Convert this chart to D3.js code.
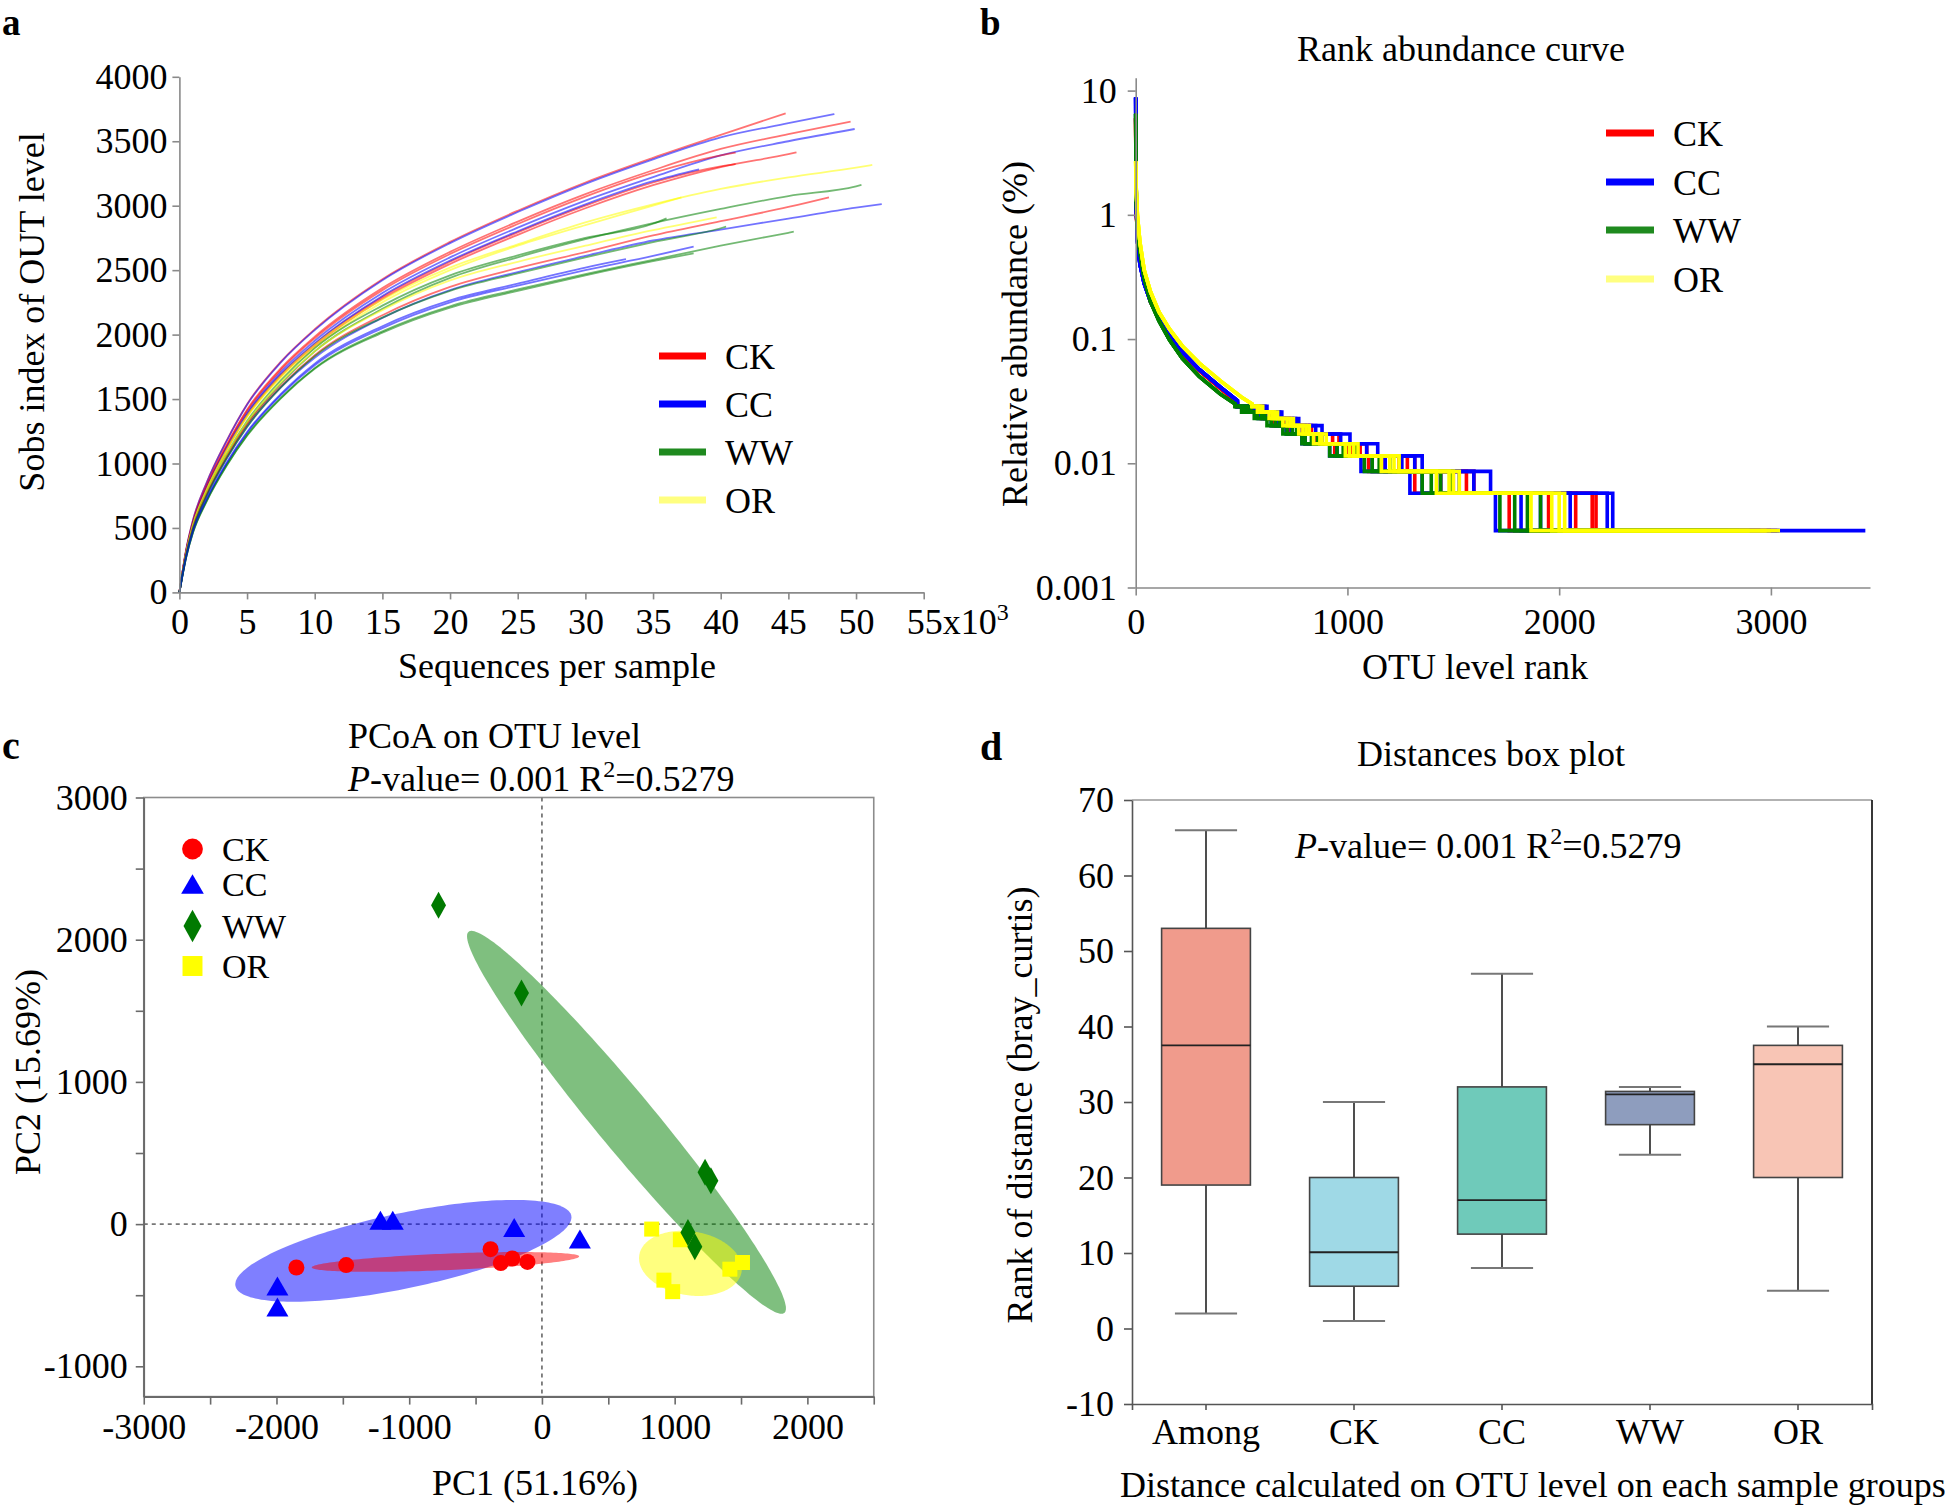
<!DOCTYPE html>
<html><head><meta charset="utf-8">
<script src="https://cdn.jsdelivr.net/npm/d3@7"></script>
<style>body{margin:0;background:#fff}</style>
</head><body>
<svg id="c" width="1945" height="1505" xmlns="http://www.w3.org/2000/svg"></svg>
<script>
// ---------------- DATA ----------------
const groups = ["CK","CC","WW","OR"];
const lineColors = {CK:"#ff0000", CC:"#0000ff", WW:"#008000", OR:"#ffff00"};
const legendColors = {CK:"#ff0000", CC:"#0000ff", WW:"#1f8a1f", OR:"#ffff80"};

// Panel a: rarefaction curves (x in thousands of sequences)
const rareTicksX = [0,5,10,15,20,25,30,35,40,45,50,55];
const rareTicksY = [0,500,1000,1500,2000,2500,3000,3500,4000];
const rareX = [0,0.5,1,2,3.5,5,7.5,10,15,20,25,30,35,40,45,50];
const rareCurves = [
 ["CK",[0,331,560,849,1180,1460,1790,2042,2430,2719,2961,3180,3371,3549],[44.8,3717]],
 ["CC",[0,330,558,846,1176,1455,1785,2035,2422,2710,2951,3170,3360,3530,3640],[48.4,3711]],
 ["CK",[0,321,544,825,1146,1418,1740,1984,2361,2642,2877,3090,3275,3440,3555],[49.6,3652]],
 ["CC",[0,316,535,812,1128,1395,1712,1952,2323,2599,2830,3040,3222,3390,3500],[49.9,3595]],
 ["CK",[0,319,540,820,1139,1409,1728,1971,2345,2625,2858,3070,3254,3390],[41.1,3411]],
 ["CK",[0,310,524,796,1106,1368,1678,1913,2277,2548,2774,2980,3159,3300,3400],[45.6,3414]],
 ["CK",[0,312,528,801,1113,1377,1689,1926,2292,2565,2793,3000,3180,3305],[41.1,3323]],
 ["CC",[0,313,530,804,1117,1382,1695,1932,2300,2574,2802,3010,3190],[38.4,3282]],
 ["OR",[0,310,525,795,1110,1370,1680,1920,2270,2520,2700,2870,3010,3130,3220,3295],[51.2,3316]],
 ["OR",[0,305,520,790,1100,1360,1665,1900,2250,2500,2690,2850,3000],[37.1,3065]],
 ["WW",[0,290,500,760,1060,1310,1620,1870,2200,2440,2600,2740,2865,2975,3075,3150],[50.4,3161]],
 ["WW",[0,295,505,770,1075,1330,1645,1895,2225,2460,2615,2750,2860],[36.0,2902]],
 ["OR",[0,295,505,770,1070,1320,1630,1870,2190,2420,2565,2690,2810],[39.7,2910]],
 ["CK",[0,290,495,755,1050,1300,1600,1840,2150,2370,2515,2640,2770,2880,2990],[48.0,3065]],
 ["CC",[0,287,490,746,1040,1285,1590,1820,2130,2345,2485,2610,2730,2815,2900,2985],[51.9,3013]],
 ["WW",[0,286,489,744,1040,1284,1590,1833,2132,2340,2475,2600,2717,2825],[40.4,2837]],
 ["CC",[0,275,470,715,1000,1235,1530,1762,2050,2250,2380,2500,2610],[38.0,2682]],
 ["WW",[0,272,464,706,988,1220,1510,1740,2025,2220,2350,2470,2580,2690,2790],[45.4,2798]],
 ["WW",[0,270,462,703,984,1215,1505,1735,2015,2210,2340,2460,2570],[38.0,2630]],
 ["CC",[0,277,474,720,1008,1245,1540,1775,2065,2265,2395,2520],[33.0,2585]]
];

// Panel b: rank abundance (relative abundance %)
const rankTicksX = [0,1000,2000,3000];
const rankTicksY = [0.001,0.01,0.1,1,10];
const rankTickLabelsY = ["0.001","0.01","0.1","1","10"];
const rankUnit = 0.00287; // abundance of a single read (%)
const rankHeads = {
 CK:[[0,6.0],[1,2.2],[3,1.1],[8,0.65],[20,0.42],[40,0.29],[70,0.2],[110,0.145],[160,0.105],[220,0.077],[300,0.056],[400,0.04],[480,0.031]],
 CC:[[0,8.8],[1,3.0],[3,1.2],[8,0.62],[20,0.4],[40,0.28],[70,0.2],[110,0.148],[160,0.108],[220,0.079],[300,0.057],[400,0.041],[480,0.032]],
 WW:[[0,6.5],[1,2.6],[3,1.3],[8,0.8],[20,0.5],[40,0.31],[70,0.2],[110,0.14],[160,0.098],[220,0.07],[300,0.05],[400,0.036],[470,0.030]],
 OR:[[0,2.7],[1,2.1],[3,1.5],[8,1.0],[20,0.6],[40,0.36],[70,0.24],[110,0.165],[160,0.12],[220,0.088],[300,0.064],[400,0.046],[500,0.034],[550,0.030]]
};
// last rank holding 10,9,...,2 reads, then last rank (1 read)
const rankTails = [
 ["CK",[600,670,740,830,960,1091,1318,1597,2174,3030]],
 ["CK",[590,655,725,815,930,1060,1283,1562,2156,3000]],
 ["CK",[570,635,700,790,880,1020,1244,1500,2078,2950]],
 ["CK",[530,590,650,720,800,940,1100,1318,1764,2700]],
 ["CK",[555,620,690,770,850,1000,1178,1440,1950,2900]],
 ["CC",[620,690,770,880,1012,1143,1353,1676,2253,3446]],
 ["CC",[610,680,755,850,968,1091,1318,1597,2227,3040]],
 ["CC",[580,645,715,800,880,1038,1257,1528,2052,3000]],
 ["CC",[540,600,665,735,800,951,1117,1353,1820,2900]],
 ["CC",[520,580,640,710,785,916,1064,1295,1699,2800]],
 ["CC",[560,625,690,770,840,990,1178,1440,1912,2950]],
 ["WW",[500,560,620,695,785,916,1080,1353,1720,2700]],
 ["WW",[515,575,640,715,800,951,1117,1396,1790,2750]],
 ["WW",[545,610,680,760,860,1038,1200,1440,1912,2900]],
 ["WW",[530,595,660,740,830,980,1150,1493,1850,2850]],
 ["OR",[600,670,745,820,900,1050,1244,1528,2026,3043]],
 ["OR",[580,645,715,790,870,1010,1200,1480,1965,2980]],
 ["OR",[575,630,695,770,840,990,1160,1420,1867,2900]],
 ["OR",[590,655,730,805,880,1030,1220,1500,2000,3000]]
];

// Panel c: PCoA
const pcoaTicksX = [-3000,-2000,-1000,0,1000,2000];
const pcoaMinorX = [-2500,-1500,-500,500,1500,2500];
const pcoaTicksY = [-1000,0,1000,2000,3000];
const pcoaMinorY = [-500,500,1500,2500];
const pcoaPoints = {
 CK:[[-1850,-305],[-1475,-288],[-387,-176],[-310,-274],[-223,-242],[-109,-266]],
 CC:[[-1993,-435],[-1993,-583],[-1217,28],[-1124,28],[-209,-24],[286,-105]],
 WW:[[-779,2243],[-154,1625],[1229,364],[1273,305],[1100,-59],[1152,-160]],
 OR:[[827,-35],[1043,-110],[919,-394],[985,-475],[1416,-317],[1511,-270]]
};
const pcoaEllipses = [
 {g:"CC", cx:-1044, cy:-188, a:1289, b:265, angle:11, fill:"rgba(0,0,255,0.5)"},
 {g:"CK", cx:-727, cy:-266, a:1008, b:58, angle:2.2, fill:"rgba(255,0,0,0.5)"},
 {g:"WW", cx:637, cy:716, a:1792, b:212, angle:-48.35, fill:"rgba(0,128,0,0.5)"},
 {g:"OR", cx:1119, cy:-276, a:390, b:225, angle:-8, fill:"rgba(255,255,0,0.5)"}
];

// Panel d: distance box plot
const boxCats = ["Among","CK","CC","WW","OR"];
const boxMin = [2,1,8,23,5];
const boxQ1 = [19,5.6,12.5,27,20];
const boxMed = [37.5,10.1,17,31,35];
const boxQ3 = [53,20,32,31.4,37.5];
const boxMax = [66,30,47,32,40];
const boxFills = ["#f09b8c","#9fd9e6","#6fcaba","#8e9dbe","#f8c5b5"];
const boxTicksY = [-10,0,10,20,30,40,50,60,70];

// ---------------- DRAWING ----------------
const FONT = "'Liberation Serif','Times New Roman',Times,serif";
const svg = d3.select("#c");
const AX = "#8a8a8a";
const plain = d => String(d);

function txt(x,y,s,o={}){
  const t = svg.append("text").attr("x",x).attr("y",y)
    .attr("font-family",FONT).attr("font-size",o.size||36).attr("fill","#000").text(s);
  if(o.anchor) t.attr("text-anchor",o.anchor);
  if(o.weight) t.attr("font-weight",o.weight);
  if(o.rotate) t.attr("transform",`rotate(-90,${x},${y})`);
  return t;
}
function pvalue(x,y){
  const t = svg.append("text").attr("x",x).attr("y",y).attr("font-family",FONT).attr("font-size",36).attr("fill","#000");
  t.append("tspan").attr("font-style","italic").text("P");
  t.append("tspan").text("-value= 0.001 R");
  t.append("tspan").attr("font-size",24).attr("dy",-14).text("2");
  t.append("tspan").attr("dy",14).text("=0.5279");
}
function styleAxis(g,col){
  g.attr("font-family",FONT).attr("font-size",36);
  g.select(".domain").attr("stroke",col||AX).attr("stroke-width",1.6);
  g.selectAll(".tick line").attr("stroke",col||AX).attr("stroke-width",1.6);
  g.selectAll(".tick text").attr("fill","#000");
}

// ===== Panel a =====
const xA = d3.scaleLinear().domain([0,55]).range([179.4,923.7]);
const yA = d3.scaleLinear().domain([0,4000]).range([592.4,76.8]);
const lineA = d3.line().x(d=>xA(d[0])).y(d=>yA(d[1])).curve(d3.curveMonotoneX);
const gA = svg.append("g");
rareCurves.forEach(([g,ys,end])=>{
  const pts = ys.map((y,i)=>[rareX[i],y]).concat([end]);
  gA.append("path").attr("d",lineA(pts)).attr("fill","none")
    .attr("stroke",lineColors[g]).attr("stroke-opacity",0.55).attr("stroke-width",1.8);
});
const axAx = svg.append("g").attr("transform",`translate(0,${yA(0)})`)
  .call(d3.axisBottom(xA).tickValues(rareTicksX).tickSize(7).tickPadding(9).tickSizeOuter(0)
    .tickFormat(d=> d===55 ? "" : String(d)));
styleAxis(axAx);
const t55 = svg.append("text").attr("x",xA(55)-17).attr("y",634).attr("font-family",FONT).attr("font-size",36);
t55.append("tspan").text("55x10");
t55.append("tspan").attr("font-size",24).attr("dy",-14).text("3");
const axAy = svg.append("g").attr("transform",`translate(${xA(0)},0)`)
  .call(d3.axisLeft(yA).tickValues(rareTicksY).tickSize(7).tickPadding(5).tickSizeOuter(0).tickFormat(plain));
styleAxis(axAy);
txt(557,678,"Sequences per sample",{anchor:"middle"});
txt(44,312,"Sobs index of OUT level",{anchor:"middle",rotate:true});
txt(2,35,"a",{size:37,weight:"bold"});
const legA = [356,404,452,500];
groups.forEach((g,i)=>{
  svg.append("line").attr("x1",659).attr("x2",706).attr("y1",legA[i]).attr("y2",legA[i])
    .attr("stroke",legendColors[g]).attr("stroke-width",7);
  txt(725,legA[i]+13,g);
});

// ===== Panel b =====
const xB = d3.scaleLinear().domain([0,3468]).range([1135.7,1870]);
const yB = d3.scaleLog().domain([0.001,12.7]).range([587.5,77.7]);
const lineB = d3.line().x(d=>xB(d[0])).y(d=>yB(d[1]));
const gB = svg.append("g");
groups.forEach(g=>{
  rankTails.filter(r=>r[0]===g).forEach(([gg,tail])=>{
    const pts = rankHeads[g].slice();
    let prev = pts[pts.length-1][0];
    tail.forEach((t,i)=>{
      const k = 10-i;
      pts.push([prev,k*rankUnit]); pts.push([t,k*rankUnit]); prev=t;
    });
    gB.append("path").attr("d",lineB(pts)).attr("fill","none")
      .attr("stroke",lineColors[g]).attr("stroke-width",3.6).attr("stroke-linejoin","miter");
  });
});
const axBx = svg.append("g").attr("transform",`translate(0,${yB(0.001)})`)
  .call(d3.axisBottom(xB).tickValues(rankTicksX).tickSize(8).tickPadding(13).tickSizeOuter(0).tickFormat(plain));
styleAxis(axBx);
const axBy = svg.append("g").attr("transform",`translate(${xB(0)},0)`)
  .call(d3.axisLeft(yB).tickValues(rankTicksY).tickSize(8).tickPadding(11).tickSizeOuter(0)
    .tickFormat((d,i)=>rankTickLabelsY[i]));
styleAxis(axBy);
txt(1461,61,"Rank abundance curve",{anchor:"middle"});
txt(1475,679,"OTU level rank",{anchor:"middle"});
txt(1027,334,"Relative abundance (%)",{anchor:"middle",rotate:true});
txt(980,35,"b",{size:37,weight:"bold"});
const legB = [133,182,230,279];
groups.forEach((g,i)=>{
  svg.append("line").attr("x1",1606).attr("x2",1654).attr("y1",legB[i]).attr("y2",legB[i])
    .attr("stroke",legendColors[g]).attr("stroke-width",7);
  txt(1673,legB[i]+13,g);
});

// ===== Panel c =====
const xC = d3.scaleLinear().domain([-3000,2500]).range([143.75,873.75]);
const yC = d3.scaleLinear().domain([-1213,3000]).range([1396.6,797.5]);
svg.append("rect").attr("x",xC(-3000)).attr("y",yC(3000)).attr("width",xC(2500)-xC(-3000))
  .attr("height",yC(-1213)-yC(3000)).attr("fill","none").attr("stroke","#8c8c8c").attr("stroke-width",1.6);
svg.append("line").attr("x1",xC(-3000)).attr("x2",xC(2500)).attr("y1",yC(0)).attr("y2",yC(0))
  .attr("stroke","#777").attr("stroke-width",1.8).attr("stroke-dasharray","4,4");
svg.append("line").attr("x1",xC(0)).attr("x2",xC(0)).attr("y1",yC(3000)).attr("y2",yC(-1213))
  .attr("stroke","#777").attr("stroke-width",1.8).attr("stroke-dasharray","4,4");
const gC = svg.append("g");
pcoaEllipses.forEach(e=>{
  const ph = e.angle*Math.PI/180;
  const pts = d3.range(0,360,2).map(deg=>{
    const t = deg*Math.PI/180;
    const x = e.cx + e.a*Math.cos(t)*Math.cos(ph) - e.b*Math.sin(t)*Math.sin(ph);
    const y = e.cy + e.a*Math.cos(t)*Math.sin(ph) + e.b*Math.sin(t)*Math.cos(ph);
    return [xC(x),yC(y)];
  });
  gC.append("path").attr("d",d3.line().curve(d3.curveLinearClosed)(pts)).attr("fill",e.fill);
});
const markerColors = {CK:"#ff0000", CC:"#0000ff", WW:"#007a00", OR:"#ffff00"};
function marker(parent,g,cx,cy,s){
  const c = markerColors[g];
  if(g==="CK") parent.append("circle").attr("cx",cx).attr("cy",cy).attr("r",8*s).attr("fill",c);
  else if(g==="CC"){ const w=22*s,h=19*s;
    parent.append("path").attr("d",`M${cx},${cy-h/2}L${cx+w/2},${cy+h/2}L${cx-w/2},${cy+h/2}Z`).attr("fill",c);}
  else if(g==="WW"){ const w=15*s,h=27*s;
    parent.append("path").attr("d",`M${cx},${cy-h/2}L${cx+w/2},${cy}L${cx},${cy+h/2}L${cx-w/2},${cy}Z`).attr("fill",c);}
  else { const w=15*s;
    parent.append("rect").attr("x",cx-w/2).attr("y",cy-w/2).attr("width",w).attr("height",w).attr("fill",c);}
}
["CK","CC","OR","WW"].forEach(g=>{
  pcoaPoints[g].forEach(p=>marker(gC,g,xC(p[0]),yC(p[1]),1));
});
const axCx = svg.append("g").attr("transform",`translate(0,${yC(-1213)})`)
  .call(d3.axisBottom(xC).tickValues(pcoaTicksX).tickSize(8).tickPadding(9).tickSizeOuter(0).tickFormat(plain));
styleAxis(axCx,"#6a6a6a");
const axCx2 = svg.append("g").attr("transform",`translate(0,${yC(-1213)})`)
  .call(d3.axisBottom(xC).tickValues(pcoaMinorX).tickSize(8).tickFormat("").tickSizeOuter(0));
styleAxis(axCx2,"#6a6a6a");
const axCy = svg.append("g").attr("transform",`translate(${xC(-3000)},0)`)
  .call(d3.axisLeft(yC).tickValues(pcoaTicksY).tickSize(8).tickPadding(8).tickSizeOuter(0).tickFormat(plain));
styleAxis(axCy,"#6a6a6a");
const axCy2 = svg.append("g").attr("transform",`translate(${xC(-3000)},0)`)
  .call(d3.axisLeft(yC).tickValues(pcoaMinorY).tickSize(8).tickFormat("").tickSizeOuter(0));
styleAxis(axCy2,"#6a6a6a");
txt(348,748,"PCoA on OTU level");
pvalue(348,791);
txt(535,1495,"PC1 (51.16%)",{anchor:"middle"});
txt(40,1072,"PC2 (15.69%)",{anchor:"middle",rotate:true});
txt(2,759,"c",{size:40,weight:"bold"});
const legC = [849,884,926,966];
const legCs = {CK:1.3, CC:1.03, WW:1.2, OR:1.33};
groups.forEach((g,i)=>{
  marker(svg,g,192.5,legC[i],legCs[g]);
  txt(222,legC[i]+12,g,{size:34});
});

// ===== Panel d =====
const xD = d3.scaleBand().domain(boxCats).range([1132,1872]).padding(0);
const yD = d3.scaleLinear().domain([-10,70]).range([1404,800]);
const bw = xD.bandwidth();
svg.append("line").attr("x1",1132).attr("x2",1872).attr("y1",800).attr("y2",800).attr("stroke","#999").attr("stroke-width",1.6);
svg.append("line").attr("x1",1872).attr("x2",1872).attr("y1",800).attr("y2",1404).attr("stroke","#222").attr("stroke-width",1.8);
const gD = svg.append("g");
boxCats.forEach((c,i)=>{
  const cx = xD(c)+bw/2, w = bw*0.6, cw = bw*0.42;
  gD.append("line").attr("x1",cx).attr("x2",cx).attr("y1",yD(boxMax[i])).attr("y2",yD(boxMin[i]))
    .attr("stroke","#222").attr("stroke-width",1.6);
  [boxMax[i],boxMin[i]].forEach(v=>gD.append("line").attr("x1",cx-cw/2).attr("x2",cx+cw/2)
    .attr("y1",yD(v)).attr("y2",yD(v)).attr("stroke","#777").attr("stroke-width",2));
  gD.append("rect").attr("x",cx-w/2).attr("width",w).attr("y",yD(boxQ3[i])).attr("height",yD(boxQ1[i])-yD(boxQ3[i]))
    .attr("fill",boxFills[i]).attr("stroke","#444").attr("stroke-width",1.6);
  gD.append("line").attr("x1",cx-w/2).attr("x2",cx+w/2).attr("y1",yD(boxMed[i])).attr("y2",yD(boxMed[i]))
    .attr("stroke","#222").attr("stroke-width",1.8);
});
const axDx = svg.append("g").attr("transform",`translate(0,1404)`)
  .call(d3.axisBottom(xD).tickSize(6).tickPadding(8).tickSizeOuter(6));
styleAxis(axDx,"#555");
const axDy = svg.append("g").attr("transform",`translate(1132,0)`)
  .call(d3.axisLeft(yD).tickValues(boxTicksY).tickSize(8).tickPadding(10).tickSizeOuter(0).tickFormat(plain));
styleAxis(axDy,"#555");
txt(1491,766,"Distances box plot",{anchor:"middle"});
pvalue(1295,858);
txt(1120,1497,"Distance calculated on OTU level on each sample groups");
txt(1032,1105,"Rank of distance (bray_curtis)",{anchor:"middle",rotate:true});
txt(980,760,"d",{size:40,weight:"bold"});
</script>
</body></html>
